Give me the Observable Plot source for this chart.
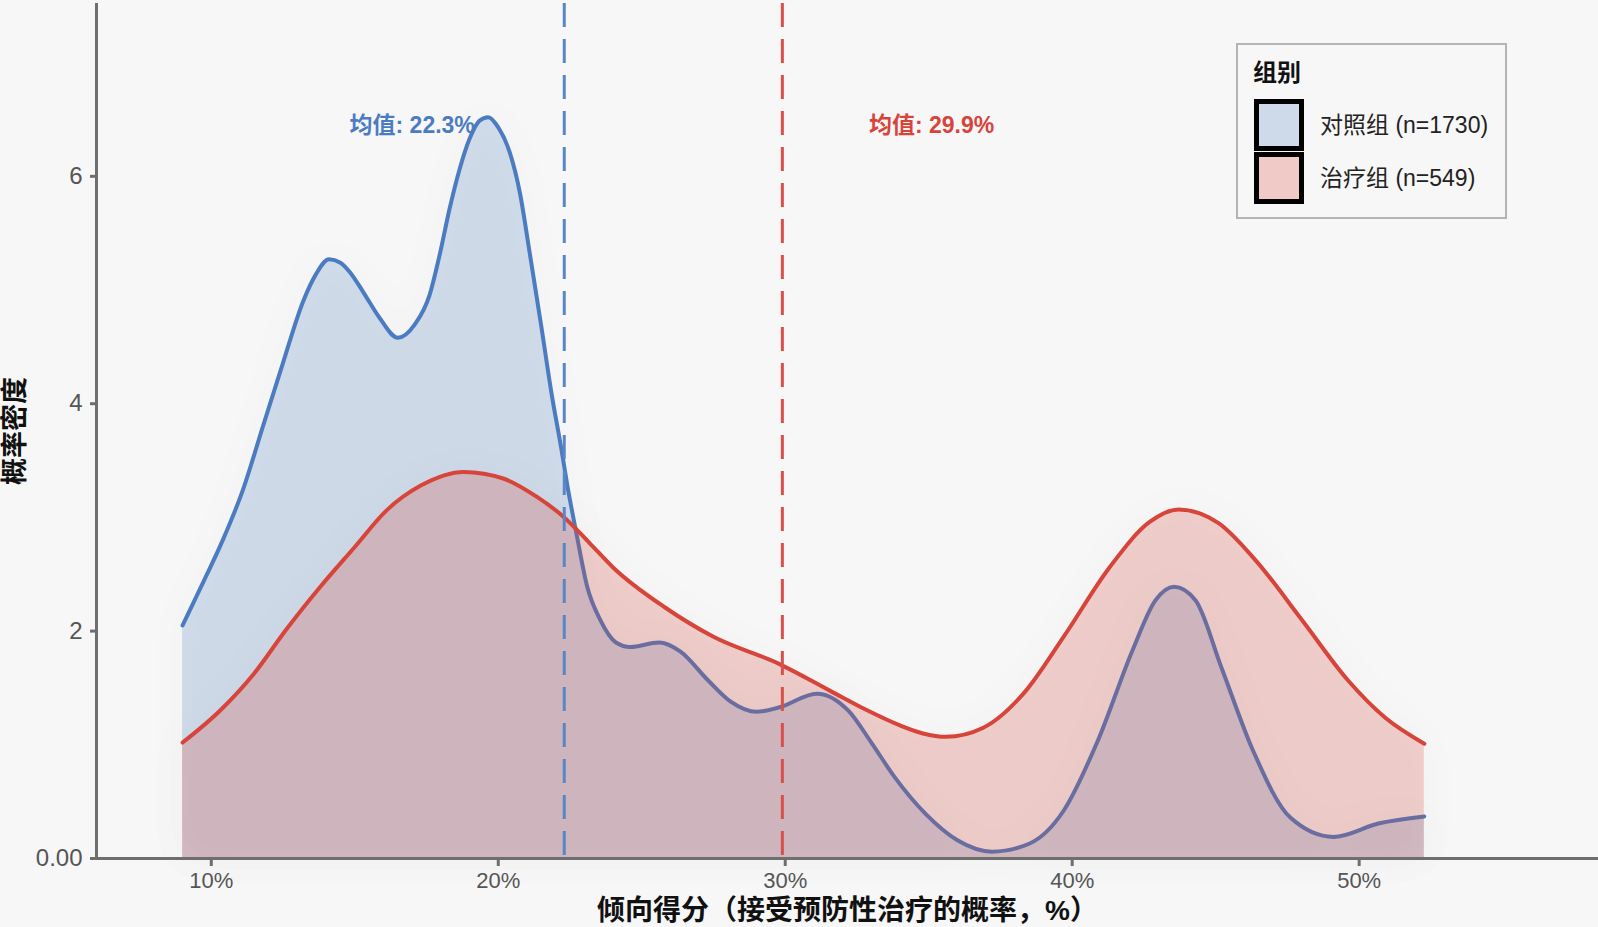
<!DOCTYPE html>
<html>
<head>
<meta charset="utf-8">
<script src="https://cdn.jsdelivr.net/npm/d3@7"></script>
<script src="https://cdn.jsdelivr.net/npm/@observablehq/plot@0.6"></script>
<style>
  html, body { margin: 0; padding: 0; background: #f7f7f7; }
  #wrap { position: relative; width: 1598px; height: 927px; overflow: hidden;
          font-family: "Liberation Sans", "Noto Sans CJK SC", sans-serif; }
  #legend { position: absolute; left: 1236px; top: 43px; width: 271px; height: 176px;
            box-sizing: border-box; border: 2px solid #b4b4b4; background: #f7f7f7; }
  #legend .title { position: absolute; left: 15px; top: 8px; font-size: 24px; font-weight: bold; color: #111; }
  #legend .sw { position: absolute; left: 16px; width: 50px; height: 52px; box-sizing: border-box;
                border: 5px solid #000; }
  #legend .lab { position: absolute; left: 82px; font-size: 23px; color: #222; line-height: 26px; }
</style>
</head>
<body>
<div id="wrap">
  <div id="chart"></div>
  <div id="legend"></div>
</div>
<script>
// ---- data ----
const groups = ["对照组", "治疗组"];
const groupN = [1730, 549];
const groupMeans = [22.3, 29.9];

// 对照组 density curve (x in %, density)
const controlX = [9.0, 9.7, 10.4, 11.1, 11.8, 12.5, 13.2, 13.65, 14.1, 14.5, 14.85, 15.3, 15.85, 16.5, 17.1, 17.6, 17.95, 18.3, 18.65, 19.0, 19.35, 19.65, 20.0, 20.4, 20.75, 21.1, 21.5, 21.85, 22.2, 22.45, 22.7, 23.1, 23.55, 24.1, 24.6, 25.6, 26.35, 27.3, 28.1, 29.0, 29.8, 31.1, 32.2, 33.0, 33.8, 34.9, 36.0, 37.2, 38.5, 39.7, 40.9, 42.1, 42.9, 43.55, 44.3, 45.2, 46.3, 47.6, 49.1, 50.7, 52.27];
const controlY = [2.05, 2.42, 2.80, 3.24, 3.80, 4.36, 4.90, 5.14, 5.27, 5.24, 5.15, 4.98, 4.76, 4.58, 4.70, 4.95, 5.30, 5.71, 6.06, 6.33, 6.49, 6.52, 6.43, 6.21, 5.86, 5.32, 4.68, 4.10, 3.60, 3.22, 2.89, 2.39, 2.10, 1.90, 1.86, 1.90, 1.82, 1.57, 1.38, 1.29, 1.33, 1.45, 1.30, 1.02, 0.72, 0.39, 0.16, 0.06, 0.13, 0.42, 1.04, 1.83, 2.27, 2.39, 2.27, 1.68, 0.95, 0.36, 0.19, 0.31, 0.37];

// 治疗组 density curve
const treatX = [9.0, 10.3, 11.5, 12.6, 13.8, 15.0, 16.1, 17.3, 18.8, 20.2, 21.35, 22.3, 23.2, 24.0, 25.8, 27.5, 29.8, 31.6, 32.8, 34.0, 34.8, 35.6, 36.9, 38.3, 39.7, 41.3, 42.7, 43.7, 45.1, 46.4, 48.0, 49.6, 50.9, 52.27];
const treatY = [1.02, 1.30, 1.63, 2.01, 2.39, 2.74, 3.06, 3.28, 3.40, 3.34, 3.18, 3.00, 2.77, 2.56, 2.21, 1.95, 1.71, 1.47, 1.31, 1.17, 1.10, 1.07, 1.15, 1.45, 1.95, 2.56, 2.96, 3.07, 2.95, 2.62, 2.10, 1.57, 1.24, 1.01];

const xTicks = [10, 20, 30, 40, 50];
const yTicks = [0, 2, 4, 6];
const xLabel = "倾向得分（接受预防性治疗的概率，%）";
const yLabel = "概率密度";
const legendTitle = "组别";

// ---- styles ----
const lineColors = ["#4b7bc1", "#d7443a"];
const dashColors = ["#5a86c6", "#d8504a"];
const fillOpacity = [0.22, 0.23];
const axisColor = "#6e6e6e";
const xDomain = [6.0, 58.34];
const yDomain = [0, 7.52];

const control = controlX.map((x, i) => ({x, y: controlY[i]}));
const treat = treatX.map((x, i) => ({x, y: treatY[i]}));
const series = [control, treat];

const marks = [];
series.forEach((s, i) => {
  marks.push(Plot.areaY(s, {x: "x", y: "y", fill: lineColors[i], fillOpacity: fillOpacity[i], curve: "monotone-x"}));
  marks.push(Plot.lineY(s, {x: "x", y: "y", stroke: lineColors[i], strokeWidth: 4, curve: "monotone-x"}));
});
groupMeans.forEach((m, i) => {
  marks.push(Plot.ruleX([m], {stroke: dashColors[i], strokeWidth: 3, strokeDasharray: "24,12"}));
  marks.push(Plot.text([m], {
    x: d => d + (i === 0 ? -5.3 : 5.2), y: 6.45,
    text: d => `均值: ${d.toFixed(1)}%`,
    fill: lineColors[i], fontSize: 23, fontWeight: "bold"
  }));
});

marks.push(Plot.axisX({ticks: xTicks, tickFormat: d => d + "%", tickSize: 8, tickPadding: 6, fontSize: 22,
  label: null, stroke: axisColor, fill: "#555"}));
marks.push(Plot.axisY({ticks: yTicks, tickFormat: d => d === 0 ? "0.00" : String(d), tickSize: 6, tickPadding: 8,
  fontSize: 24, label: null, stroke: axisColor, fill: "#555"}));
marks.push(Plot.ruleY([yDomain[0]], {stroke: axisColor, strokeWidth: 3}));
marks.push(Plot.ruleX([xDomain[0]], {stroke: axisColor, strokeWidth: 3}));
marks.push(Plot.text([xLabel], {text: d => d, frameAnchor: "bottom", lineAnchor: "middle", textAnchor: "middle",
  dy: 53, dx: 0, fontSize: 28, fontWeight: "bold", fill: "#111"}));
marks.push(Plot.text([yLabel], {text: d => d, frameAnchor: "left", lineAnchor: "middle", textAnchor: "middle",
  rotate: -90, dx: -81, fontSize: 27, fontWeight: "bold", fill: "#111"}));

const chart = Plot.plot({
  width: 1598,
  height: 927,
  marginLeft: 96,
  marginRight: 0,
  marginTop: 3,
  marginBottom: 69,
  style: {background: "#f7f7f7", fontFamily: "Liberation Sans, Noto Sans CJK SC, sans-serif"},
  x: {domain: xDomain},
  y: {domain: yDomain},
  marks
});
document.getElementById("chart").appendChild(chart);

// soft halo behind the density areas
d3.select(chart).selectAll('g[aria-label="area"]').style("filter", "drop-shadow(0px 0px 20px rgba(0,0,0,0.09))");
d3.select(chart).selectAll('g[aria-label$="tick"]').attr("stroke-width", 3);
d3.select(chart).selectAll('g[aria-label$="tick"] path').attr("stroke-width", 3);

// legend
const lg = d3.select("#legend");
lg.append("div").attr("class", "title").text(legendTitle);
groups.forEach((g, i) => {
  const top = 54 + i * 53;
  const c = d3.color(lineColors[i]); c.opacity = fillOpacity[i] + 0.02;
  lg.append("div").attr("class", "sw").style("top", top + "px")
    .style("background", `linear-gradient(${c.formatRgb()}, ${c.formatRgb()}), #f7f7f7`);
  lg.append("div").attr("class", "lab").style("top", (top + 13) + "px").text(`${g} (n=${groupN[i]})`);
});
</script>
</body>
</html>
